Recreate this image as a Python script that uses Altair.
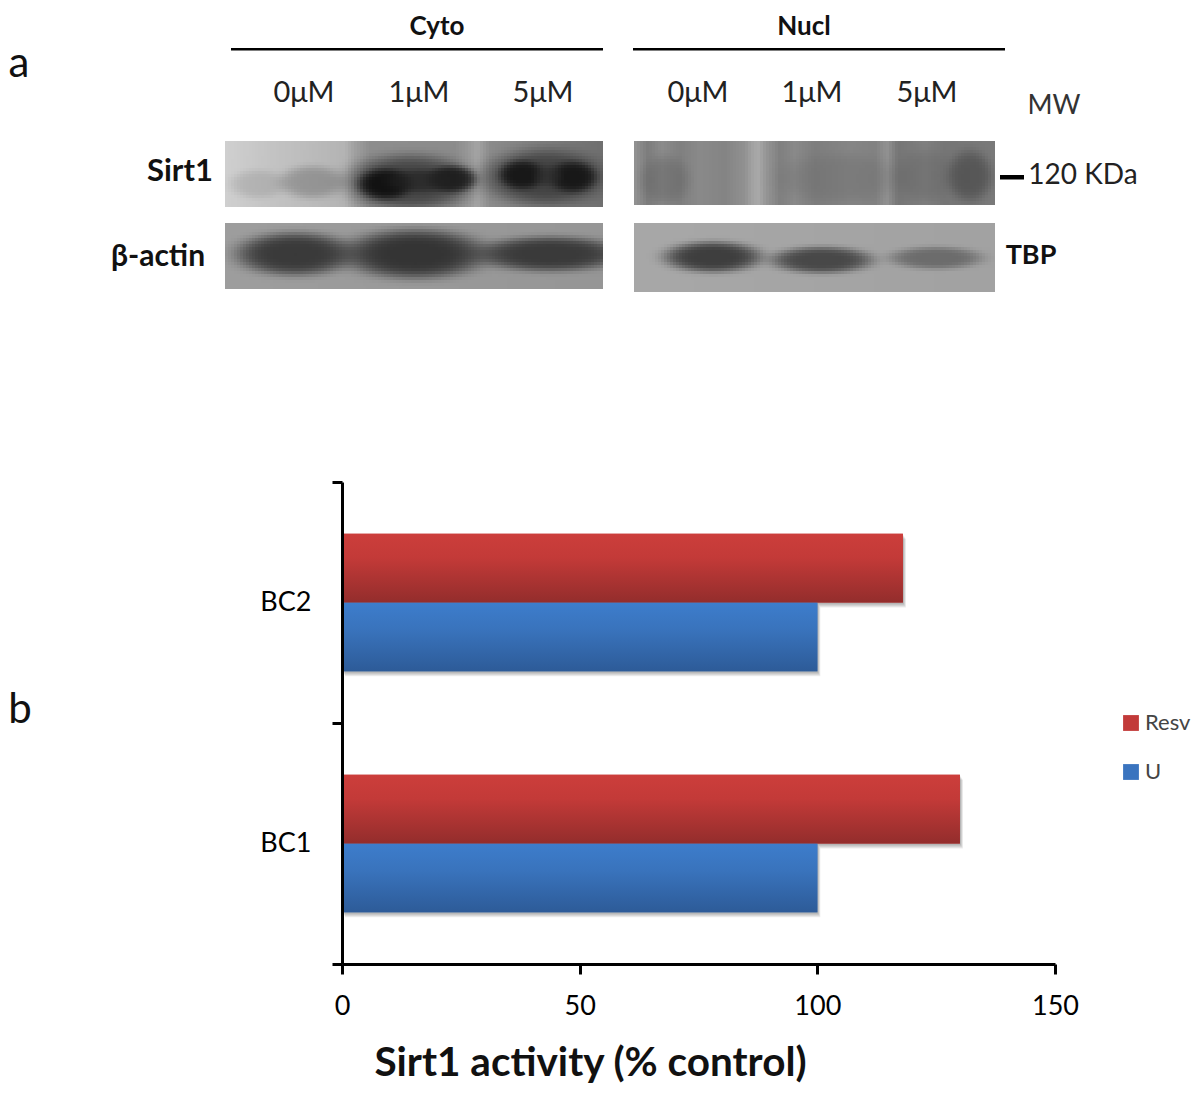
import altair as alt
import numpy as np
import pandas as pd

FONT = "Lato"
W, H = 1184, 1085

# ---- chart values
groups = ["BC2", "BC1"]
series = ["Resv", "U"]
resv_values = [118, 130]
u_values = [100, 100]
x_ticks = [0, 50, 100, 150]
bar_df = pd.DataFrame({
    "group": groups * 2,
    "series": ["Resv"] * 2 + ["U"] * 2,
    "value": resv_values + u_values,
})

# ---- picture-space scales for panel a
PX = alt.Scale(domain=[8, 8 + W], range=[0, W])
PY = alt.Scale(domain=[8, 8 + H], range=[0, H])

# ---- blots: strip box, background grey profile, bands (cx, cy, rx, ry, grey, alpha)
strips = [
    dict(box=(225, 603, 141, 207),
         bg=[(225, 208), (240, 204), (270, 196), (300, 190), (345, 180), (355, 160), (370, 142), (455, 140),
             (468, 152), (477, 165), (490, 140), (540, 125), (603, 112)],
         bands=[(258, 184, 28, 14, 130, 0.3), (312, 182, 32, 16, 110, 0.5),
                (410, 182, 62, 27, 60, 0.9), (385, 184, 26, 15, 15, 0.95), (452, 179, 24, 13, 22, 0.85),
                (420, 181, 34, 11, 35, 0.7),
                (545, 177, 60, 27, 60, 0.9), (522, 175, 22, 14, 22, 0.95), (573, 177, 23, 15, 22, 0.95),
                (548, 176, 14, 10, 45, 0.6)]),
    dict(box=(225, 603, 223, 289),
         bg=[(225, 158), (603, 150)],
         bands=[(295, 254, 58, 21, 58, 1), (415, 254, 70, 24, 52, 1), (550, 254, 72, 17, 58, 1)]),
    dict(box=(634, 995, 141, 205),
         bg=[(634, 148), (648, 125), (662, 140), (680, 128), (700, 138), (725, 132), (745, 146), (752, 162), (758, 170),
             (766, 150), (780, 128), (795, 138), (815, 126), (850, 134), (875, 130), (887, 146), (898, 118), (925, 128),
             (945, 118), (995, 122)],
         bands=[(665, 180, 24, 24, 90, 0.4), (970, 176, 22, 25, 65, 0.6), (840, 178, 60, 24, 100, 0.3),
                (925, 176, 30, 25, 90, 0.3)]),
    dict(box=(634, 995, 223, 292),
         bg=[(634, 168), (995, 162)],
         bands=[(713, 257, 48, 15, 62, 1), (822, 260, 50, 13, 72, 1), (936, 258, 46, 11, 108, 1)]),
]
CELL_W, CELL_H = 3, 3


def strip_cells(s):
    x0, x1, y0, y1 = s["box"]
    xs = np.arange(x0, x1, CELL_W)
    ys = np.arange(y0, y1, CELL_H)
    gx, gy = np.meshgrid(xs + CELL_W / 2, ys + CELL_H / 2)
    stops = np.array(s["bg"], dtype=float)
    g = np.interp(gx, stops[:, 0], stops[:, 1])
    for cx, cy, rx, ry, shade, alpha in s["bands"]:
        r = np.sqrt(((gx - cx) / rx) ** 2 + ((gy - cy) / ry) ** 2)
        a = alpha * np.exp(-(r ** 5))
        g = g * (1 - a) + shade * a
    cx0, cy0 = np.meshgrid(xs, ys)
    return pd.DataFrame({
        "x": cx0.ravel(), "x2": np.minimum(cx0.ravel() + CELL_W, x1),
        "y": cy0.ravel(), "y2": np.minimum(cy0.ravel() + CELL_H, y1),
        "c": ["#%02x%02x%02x" % (int(v), int(v), int(v)) for v in g.ravel()],
    })


alt.data_transformers.disable_max_rows()
blots = [
    alt.Chart(strip_cells(s)).mark_rect(strokeWidth=0).encode(
        x=alt.X("x:Q", scale=PX, axis=None), x2="x2:Q",
        y=alt.Y("y:Q", scale=PY, axis=None), y2="y2:Q",
        fill=alt.Fill("c:N", scale=None))
    for s in strips
]


def box(x, x2, y, y2, **mark):
    d = pd.DataFrame({"x": [x], "x2": [x2], "y": [y], "y2": [y2]})
    return alt.Chart(d).mark_rect(**mark).encode(
        x=alt.X("x:Q", scale=PX, axis=None), x2="x2:Q",
        y=alt.Y("y:Q", scale=PY, axis=None), y2="y2:Q")


rules = [box(231, 603, 48, 50.5, fill="black"), box(633, 1005, 48, 50.5, fill="black"),
         box(1000, 1024, 175, 179.5, fill="black")]


def text(label, x, y, size, weight="normal", color="#111111"):
    d = pd.DataFrame({"x": [x], "y": [y + 2], "t": [label]})
    return alt.Chart(d).mark_text(font=FONT, fontSize=size, fontWeight=weight, color=color,
                                  align="center", baseline="middle").encode(
        x=alt.X("x:Q", scale=PX, axis=None), y=alt.Y("y:Q", scale=PY, axis=None), text="t:N")


texts = [
    text("a", 19, 62, 42), text("b", 20, 708, 42),
    text("Cyto", 437, 24.5, 26, "bold"), text("Nucl", 804, 24.5, 26, "bold"),
    text("Sirt1", 180, 170, 31, "bold"), text("β-actin", 158, 255, 30, "bold"), text("TBP", 1031, 254, 27, "bold"),
    text("MW", 1054, 104, 27, color="#333333"), text("120 KDa", 1083, 174, 28, color="#222222"),
]
for lab, x in zip(["0μM", "1μM", "5μM", "0μM", "1μM", "5μM"], [304, 419, 543, 698, 812, 927]):
    texts.append(text(lab, x, 91, 29, color="#222222"))

# ---- panel b : bars
XS = alt.Scale(domain=[0, 150], range=[334, 1047], nice=False)
OS = alt.Scale(domain=series, paddingOuter=0.754, paddingInner=0)


def bars(df, legend=False, axes=False, dy=0, **mark):
    xax = None
    yax = None
    if axes:
        xax = alt.Axis(values=x_ticks, format="d", grid=False, offset=-(H - 956), domainColor="black", domainWidth=3,
                       tickColor="black", tickWidth=3, tickSize=10, labelFont=FONT, labelFontSize=27,
                       labelColor="#000000", labelPadding=19, labelFlush=False, title="Sirt1 activity (% control)",
                       titleFont=FONT, titleFontSize=40.5, titleFontWeight="bold", titleColor="#111111",
                       titleX=582, titleY=79, zindex=1)
        yax = alt.Axis(grid=False, offset=-334, domainColor="black", domainWidth=3, tickColor="black", tickWidth=3,
                       tickSize=10, tickBand="extent", labelFont=FONT, labelFontSize=27,
                       labelColor="#000000", labelPadding=21, title=None, zindex=1)
    YS = alt.Scale(domain=groups, range=[474 + dy, 956 + dy], paddingInner=0, paddingOuter=0)
    enc = dict(
        x=alt.X("value:Q", scale=XS, axis=xax, title=None if not axes else "Sirt1 activity (% control)"),
        y=alt.Y("group:N", scale=YS, axis=yax, title=None),
        yOffset=alt.YOffset("series:N", scale=OS),
    )
    if legend:
        enc["color"] = alt.Color("series:N",
                                 scale=alt.Scale(domain=series, range=["#c23a39", "#3a74bf"]),
                                 legend=alt.Legend(orient="none", legendX=1112, legendY=704, title=None,
                                                   symbolType="square", symbolSize=250, symbolStrokeWidth=0,
                                                   labelFont=FONT, labelFontSize=22, labelColor="#444444",
                                                   rowPadding=27, labelOffset=3))
    return alt.Chart(df).mark_bar(**mark).encode(**enc)


red = bar_df[bar_df.series == "Resv"]
blue = bar_df[bar_df.series == "U"]
red_g = alt.LinearGradient(gradient="linear", x1=0, y1=0, x2=0, y2=1, stops=[
    alt.GradientStop(offset=0, color="#cc3e3b"), alt.GradientStop(offset=0.35, color="#c33a38"),
    alt.GradientStop(offset=1, color="#932d2c")])
blue_g = alt.LinearGradient(gradient="linear", x1=0, y1=0, x2=0, y2=1, stops=[
    alt.GradientStop(offset=0, color="#3d7dcc"), alt.GradientStop(offset=0.4, color="#3973bc"),
    alt.GradientStop(offset=1, color="#2d5b98")])

shadow = [bars(bar_df, dy=o, xOffset=o * 0.6, fill="#000000", opacity=0.07) for o in (1, 2, 3, 4, 5)]
base = bars(bar_df, legend=True, axes=True)
top = [bars(blue, fill=blue_g), bars(red, fill=red_g)]

chart = alt.layer(*blots, *rules, *texts, *shadow, base, *top).resolve_scale(
    x="independent", y="independent", yOffset="independent", color="independent", fill="independent"
).properties(width=W, height=H, padding=0, autosize=alt.AutoSizeParams(type="none")).configure_view(stroke=None)

chart.save("out.html", embed_options={"renderer": "svg", "actions": False})
